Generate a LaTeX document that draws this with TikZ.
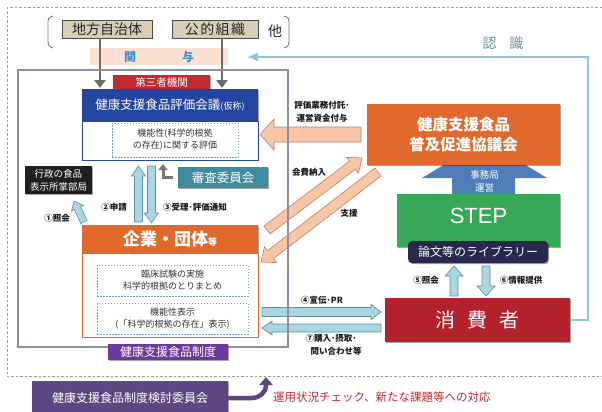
\documentclass[tikz,border=0pt]{standalone}
\usepackage{fontspec}
\setmainfont{Noto Sans CJK JP}
\newfontfamily\latinfont{Liberation Sans}
\usetikzlibrary{calc,shadows,arrows.meta}

\definecolor{beige}{HTML}{D8CEB6}
\definecolor{bandsalmon}{HTML}{FBE1D2}
\definecolor{kanyoblue}{HTML}{3B8FC8}
\definecolor{framegray}{HTML}{8E8E9E}
\definecolor{labelred}{HTML}{C22A31}
\definecolor{evalblue}{HTML}{2446A0}
\definecolor{dotblue}{HTML}{6C9CCC}
\definecolor{darkbox}{HTML}{1F1F1F}
\definecolor{teal}{HTML}{3C8C9C}
\definecolor{elbowgray}{HTML}{777777}
\definecolor{orangebox}{HTML}{E0692B}
\definecolor{stepgreen}{HTML}{36A957}
\definecolor{arrowblue}{HTML}{4F7DB8}
\definecolor{navy}{HTML}{28284F}
\definecolor{consred}{HTML}{B3212C}
\definecolor{seidopurple}{HTML}{6B3A9C}
\definecolor{kentoupurple}{HTML}{5D4682}
\definecolor{lblue}{HTML}{AAD6E3}
\definecolor{lblueedge}{HTML}{5D8F9F}
\definecolor{salmon}{HTML}{F8C6A6}
\definecolor{salmonedge}{HTML}{B88266}
\definecolor{ninshiki}{HTML}{8AC6D6}
\definecolor{ninshikitext}{HTML}{6D8D9D}
\definecolor{textred}{HTML}{C0282F}
\definecolor{innertext}{HTML}{333333}

% block arrow: style, from, to, shaft half width, head half width, head length
\newcommand\barrow[6]{%
\path[#1] let \p1=(#2), \p2=(#3), \n1={atan2(\y2-\y1,\x2-\x1)},
  \n2={veclen(\x2-\x1,\y2-\y1)}, \n3={\n2-#6} in
  ($(\p1)+(\n1+90:#4)$) -- ($(\p1)+(\n1:\n3)+(\n1+90:#4)$) --
  ($(\p1)+(\n1:\n3)+(\n1+90:#5)$) -- (\p2) --
  ($(\p1)+(\n1:\n3)+(\n1-90:#5)$) -- ($(\p1)+(\n1:\n3)+(\n1-90:#4)$) --
  ($(\p1)+(\n1-90:#4)$) -- cycle;}

\begin{document}
\begin{tikzpicture}[x=1pt,y=-1pt,
  shad/.style={drop shadow={shadow xshift=1.2pt,shadow yshift=-1.2pt,opacity=.35,fill=black}},
  boxn/.style={inner sep=0pt,outer sep=0pt,align=center},
  beigebox/.style={boxn,fill=beige,draw=black!70,line width=0.8pt,shad,minimum height=18pt,
    font=\fontsize{14}{16}\selectfont,text=black!85},
  dotbox/.style={boxn,draw=dotblue,line width=0.6pt,dash pattern=on 1.5pt off 1.5pt,
    text=innertext},
  lbluearrow/.style={fill=lblue,draw=lblueedge,line width=0.6pt},
  salmonarrow/.style={fill=salmon,draw=salmonedge,line width=0.6pt},
  lab/.style={inner sep=0pt,align=center,font=\bfseries\fontsize{8.5}{13}\selectfont,text=black!90},
  grayarrow/.style={draw=black!58,line width=2.5pt,-{Triangle[width=11pt,length=8pt]}}
]
\useasboundingbox (0,0) rectangle (602,412);
\fill[white] (0,0) rectangle (602,412);

% outer dashed frame
\draw[black!40,line width=0.7pt,dash pattern=on 2.5pt off 2pt] (7,7) rectangle (615,376);

% parentheses
\draw[black!55,line width=0.8pt] (53,16) .. controls (48,17) and (48,20) .. (48,24) -- (48,41)
  .. controls (48,45) and (49,47) .. (53,48);
\draw[black!55,line width=0.8pt] (284,16) .. controls (289,17) and (289,20) .. (289,24) -- (289,41)
  .. controls (289,45) and (288,47) .. (284,48);
\node[inner sep=0pt,font=\fontsize{14}{16}\selectfont,text=black!85] (hoka) at (275,31) {他};

% kanyo band
\node[boxn,fill=bandsalmon,minimum width=138pt,minimum height=17pt,
  font=\bfseries\fontsize{12}{14}\selectfont,text=kanyoblue] (kanyo) at (159,56.5) {関\hspace{46pt}与};

% top boxes
\node[beigebox,minimum width=90pt] (jichitai) at (107,29) {地方自治体};
\node[beigebox,minimum width=86pt] (koteki) at (215,29) {公\hspace{1.5pt}的\hspace{1.5pt}組\hspace{1.5pt}織};

\coordinate (t1) at (100,88);
\coordinate (t2) at (222,88);
\draw[grayarrow] (jichitai.south -| t1) -- (t1);
\draw[grayarrow] (koteki.south -| t2) -- (t2);

% ninshiki line
\node[inner sep=0pt,font=\fontsize{14}{16}\selectfont,text=ninshikitext] (ninshikilab) at (503,43) {認\hspace{13pt}識};

% right side boxes
\coordinate (stepA) at (484.5,194);
\path[fill=arrowblue] (452,194) -- (452,178) -- (422,178) -- (484.5,140) -- (547,178) -- (515,178) -- (515,194) -- cycle;
\node[boxn,fill=orangebox,shad,minimum width=193pt,minimum height=61pt,
  font=\bfseries\fontsize{15.5}{20}\selectfont,text=white] (kyogikai) at (463.5,134.5) {健康支援食品\\普及促進協議会};
\node[boxn,font=\fontsize{9.5}{13}\selectfont,text=white] (jimukyoku) at (484.5,181.5) {事務局\\運営};
\node[boxn,fill=stepgreen,shad,minimum width=163pt,minimum height=53pt] (step) at (478.5,220.5) {};
\node[inner sep=0pt,font=\latinfont\fontsize{22}{24}\selectfont,text=white] (steplab) at (478.5,216) {STEP};
\node[boxn,fill=navy,rounded corners=4pt,shad,minimum width=140pt,minimum height=22pt,
  font=\fontsize{12}{14}\selectfont,text=white] (library) at (478,252) {論文等のライブラリー};
\node[boxn,fill=consred,shad,minimum width=185pt,minimum height=44pt,
  font=\fontsize{20}{22}\selectfont,text=white] (shohisha) at (477.5,320) {消\hspace{12pt}費\hspace{12pt}者};

\coordinate (ninend) at (247,57);
\draw[ninshiki,line width=1.6pt,-{Latex[length=11pt,width=9pt]}] (shohisha.east) -- ++(18,0) |- (ninend);

% left side boxes
\node[boxn,fill=labelred,shad,minimum width=97pt,minimum height=14pt,
  font=\fontsize{10.5}{12}\selectfont,text=white] (daisansha) at (161.5,82) {第三者機関};
\node[boxn,fill=evalblue,shad,minimum width=176pt,minimum height=32pt,
  font=\fontsize{12.5}{14}\selectfont,text=white] (evalhead) at (170,105)
  {健康支援食品評価会議{\fontsize{9}{10}\selectfont (仮称)}};
\node[boxn,fill=white,draw=evalblue,line width=0.8pt,minimum width=176pt,minimum height=39pt] (evalbody) at (170,140.5) {};
\node[dotbox,minimum width=126pt,minimum height=34pt,font=\fontsize{9}{12}\selectfont] (evaldot) at (175,140)
  {機能性(科学的根拠\\の存在)に関する評価};

\node[boxn,fill=darkbox,shad,minimum width=67pt,minimum height=28pt,
  font=\fontsize{9.5}{13}\selectfont,text=white] (gyosei) at (58.5,180) {行政の食品\\表示所掌部局};
\node[boxn,fill=teal,shad,minimum width=90pt,minimum height=21pt,
  font=\fontsize{12.5}{14}\selectfont,text=white] (shinsa) at (223,177.5) {審査委員会};

\node[boxn,fill=orangebox,shad,minimum width=176pt,minimum height=28pt,
  font=\bfseries\fontsize{17}{19}\selectfont,text=white] (kigyohead) at (170,239)
  {企業・団体{\fontsize{9}{10}\selectfont 等}};
\node[boxn,fill=white,draw=orangebox,line width=0.8pt,minimum width=176pt,minimum height=84pt] (kigyobody) at (170,295) {};
\node[dotbox,minimum width=151pt,minimum height=31pt,font=\fontsize{9}{12}\selectfont] (dot1) at (172.5,280.5)
  {臨床試験の実施\\科学的根拠のとりまとめ};
\node[dotbox,minimum width=151pt,minimum height=31pt,font=\fontsize{9}{11.5}\selectfont] (dot2) at (172.5,318.5)
  {機能性表示\\(「科学的根拠の存在」表示)};

% elbow arrow
\coordinate (elbowtip) at (163,164);
\draw[elbowgray,line width=3pt,-{Triangle[width=9pt,length=6pt]}] ([xshift=-5pt]shinsa.west) -| (elbowtip);

% light blue block arrows
\coordinate (a1s) at (84,222); \coordinate (a1e) at (74,201);
\barrow{lbluearrow}{a1s}{a1e}{3.5pt}{6.5pt}{8pt}
\coordinate (a2s) at (138.5,222); \coordinate (a2e) at (138.5,166);
\barrow{lbluearrow}{a2s}{a2e}{4pt}{7pt}{10pt}
\coordinate (a3s) at (151.5,166); \coordinate (a3e) at (151.5,223);
\barrow{lbluearrow}{a3s}{a3e}{4pt}{7pt}{10pt}
\coordinate (a5s) at (454,296); \coordinate (a5e) at (454,266);
\barrow{lbluearrow}{a5s}{a5e}{4pt}{9pt}{10pt}
\coordinate (a6s) at (486,266); \coordinate (a6e) at (486,296);
\barrow{lbluearrow}{a6s}{a6e}{4pt}{9pt}{10pt}
\coordinate (a4s) at (262,312); \coordinate (a4e) at (381,312);
\barrow{lbluearrow}{a4s}{a4e}{4.5pt}{7.5pt}{10pt}
\coordinate (a7s) at (381,328); \coordinate (a7e) at (262,328);
\barrow{lbluearrow}{a7s}{a7e}{4pt}{7pt}{10pt}

% salmon block arrows
\coordinate (s1s) at (361,134.5); \coordinate (s1e) at (260,134.5);
\barrow{salmonarrow}{s1s}{s1e}{7.5pt}{15.5pt}{14pt}
\coordinate (s2s) at (267,230); \coordinate (s2e) at (362,158);
\barrow{salmonarrow}{s2s}{s2e}{5pt}{10pt}{12pt}
\coordinate (s3s) at (378,172); \coordinate (s3e) at (261,262);
\barrow{salmonarrow}{s3s}{s3e}{5pt}{10pt}{12pt}

% inner frame
\node[boxn,draw=framegray,line width=1.4pt,minimum width=270pt,minimum height=277pt] (frame) at (153,208.5) {};
\node[boxn,fill=seidopurple,shad,minimum width=120pt,minimum height=16pt,
  font=\fontsize{12}{14}\selectfont,text=white] (seido) at (168,352) {健康支援食品制度};

% labels
\node[lab] (l1) at (57,218) {①照会};
\node[lab] (l2) at (114,207) {②申請};
\node[lab] (l3) at (195,207) {③受理･評価通知};
\node[lab] (l4) at (322,300) {④宣伝･PR};
\node[lab] (l5) at (426,280) {⑤照会};
\node[lab] (l6) at (521,280) {⑥情報提供};
\node[lab] (l7) at (331,345) {⑦購入･摂取･\\\hspace{10pt}問い合わせ等};
\node[lab] (lfutaku) at (322,111.5) {評価業務付託･\\運営資金付与};
\node[lab] (lkaihi) at (309,172) {会費納入};
\node[lab] (lshien) at (349,213) {支援};

% bottom committee
\node[boxn,fill=kentoupurple,shad,minimum width=196pt,minimum height=34pt,
  font=\fontsize{12}{14}\selectfont,text=white] (kentou) at (130,398) {健康支援食品制度検討委員会};
\coordinate (kentoutip) at (266,377);
\draw[kentoupurple,line width=4.5pt,-{Triangle[width=13pt,length=8pt]}]
  (kentou.east) -- ++(24,0) to[out=0,in=-90] ++(14,-13) -- (kentoutip);
\node[anchor=west,inner sep=0pt,font=\fontsize{11.5}{13}\selectfont,text=textred] (taiou) at (273,397)
  {運用状況チェック、新たな課題等への対応};
\end{tikzpicture}
\end{document}
